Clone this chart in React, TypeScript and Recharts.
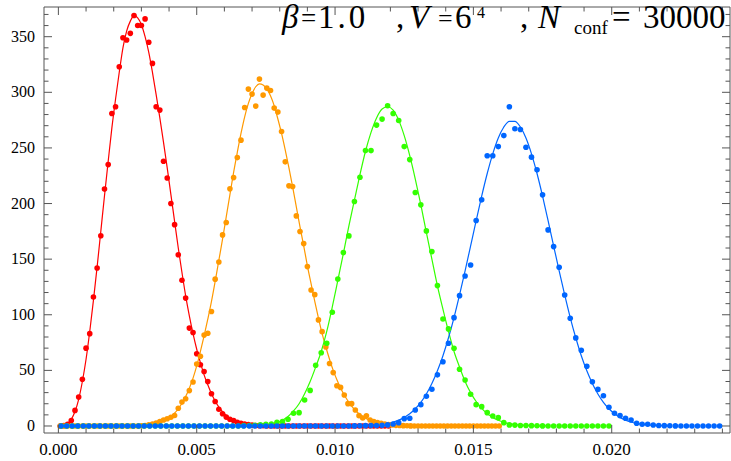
import React from 'react';
import { ComposedChart, XAxis, YAxis, Line, Scatter } from 'recharts';

// bin widths of the four histograms, bin centres sit at (i + 0.5) * width
const RED_BIN = 0.012 / 90;
const ORANGE_BIN = 0.016 / 120;
const GREEN_BIN = 0.02 / 100;
const BLUE_BIN = 0.024 / 120;

// histogram heights, one per bin
const RED_COUNTS = [
  0, 0.3, 1.5, 5, 14, 26, 42, 70, 83, 116,
  142, 171, 213, 235, 281, 287, 323, 349, 347, 353,
  369, 360, 360, 366, 345, 326, 287, 284, 238, 223,
  200, 181, 154, 131, 115, 88, 84, 65, 55, 49,
  40, 29, 22, 15, 11, 8, 6, 5, 3.3, 2.5,
  1.8, 1.2, 0.8, 0.5, 0.3, 0.2, 0, 0, 0, 0,
  0, 0, 0, 0, 0, 0, 0, 0, 0, 0,
  0, 0, 0, 0, 0, 0, 0, 0, 0, 0,
  0, 0, 0, 0, 0, 0, 0, 0, 0, 0,
];
const ORANGE_COUNTS = [
  0, 0, 0, 0, 0, 0, 0, 0, 0, 0,
  0, 0, 0, 0, 0, 0, 0, 0, 0, 0,
  0, 0, 0.2, 0.5, 1, 1.8, 2.7, 4, 5.4, 6.5,
  7.8, 9.5, 16, 21.5, 24.5, 31.8, 39.6, 55.8, 62.7, 81.7,
  83.4, 103, 132, 147.5, 171.8, 182.9, 213.2, 223.3, 241.3, 257,
  286.3, 302.9, 298.4, 287.6, 311.9, 297.5, 303.8, 301.6, 285.8, 282.2,
  264.7, 237.5, 215.9, 215.3, 188.9, 174.8, 164, 143.3, 122.3, 118.1,
  95.4, 84.8, 71, 56.2, 48, 36.2, 34.7, 27.9, 20.1, 20.1,
  14.4, 9.3, 7.2, 9.2, 5.4, 4, 3, 2.5, 1.8, 1.2,
  0.9, 0.6, 0.4, 0.3, 0.2, 0.1, 0, 0, 0, 0,
  0, 0, 0, 0, 0, 0, 0, 0, 0, 0,
  0, 0, 0, 0, 0, 0, 0, 0, 0, 0,
];
const GREEN_COUNTS = [
  0, 0, 0, 0, 0, 0, 0, 0, 0, 0,
  0, 0, 0, 0, 0, 0, 0, 0, 0, 0,
  0, 0, 0, 0, 0, 0, 0, 0, 0, 0,
  0, 0, 0, 0.3, 0.5, 0.6, 1, 1.5, 1.8, 3.3,
  3.9, 6, 11.4, 12, 23.4, 32, 54.6, 65.9, 74.4, 102.3,
  132.2, 155.9, 170.9, 201.8, 223.7, 247.6, 247.6, 270.5, 275.9, 287.9,
  281, 274.6, 251.2, 239.5, 209.9, 198.8, 175.4, 156.8, 126.2, 96.2,
  87.3, 69.9, 51, 41.4, 28.5, 19.2, 17.4, 12, 9, 7.5,
  3, 1, 0.8, 0.5, 0.4, 0.3, 0.2, 0.1, 0, 0,
  0, 0, 0, 0, 0, 0, 0, 0, 0, 0,
];
const BLUE_COUNTS = [
  0, 0, 0, 0, 0, 0, 0, 0, 0, 0,
  0, 0, 0, 0, 0, 0, 0, 0, 0, 0,
  0, 0, 0, 0, 0, 0, 0, 0, 0, 0,
  0, 0, 0, 0, 0, 0, 0, 0, 0, 0,
  0, 0, 0, 0, 0, 0, 0, 0, 0, 0,
  0, 0, 0, 0.1, 0.2, 0.3, 0.4, 0.5, 0.6, 1,
  1.8, 3, 6.6, 6.9, 14.4, 19.2, 26.8, 33.1, 46, 57.7,
  74.4, 97.4, 117.2, 134.9, 144.8, 184.7, 203.3, 242.9, 242.9, 251.2,
  261.1, 287, 267.2, 266.5, 250.6, 241.7, 230.3, 207.8, 176.3, 161.3,
  142.7, 117.8, 96.9, 79.2, 68.1, 53.7, 39.8, 32.9, 27.2, 16.8,
  11.4, 9.3, 6.9, 5.4, 2.4, 1.5, 1.5, 0.9, 0.5, 0.3,
  0.2, 0.1, 0, 0, 0, 0, 0, 0, 0, 0,
];

// fitted curves, one value per bin starting at bin *_FIT_START
const RED_FIT_START = 0;
const RED_FIT = [
  0.2, 0.8, 2.5, 6, 13, 24, 40, 60, 85, 113,
  143, 175, 207, 238, 268, 294, 318, 340, 355, 364,
  369, 367, 361, 350, 336, 318, 298, 277, 255, 232,
  208, 184, 160, 138, 117, 99, 83, 69, 57, 46,
  37, 29, 22.5, 17, 12.8, 9.5, 7, 5, 3.5, 2.4,
  1.6, 1.1, 0.7, 0.45, 0.3, 0.2, 0.1, 0,
];
const ORANGE_FIT_START = 18;
const ORANGE_FIT = [
  0.1, 0.1, 0.2, 0.3, 0.45, 0.7, 1.1, 1.6, 2.3, 3.3,
  4.6, 6.3, 8.5, 11.5, 15.5, 20.5, 26.5, 34, 43, 54,
  67, 81, 96, 112, 130, 149, 168, 188, 208, 228,
  246, 263, 278, 290, 299, 305, 307.5, 306.5, 303, 297,
  288, 276, 263, 248, 232, 215, 197, 179, 162, 144,
  128, 112, 97, 83, 71, 60, 50, 41.6, 34.2, 27.9,
  22.5, 17.9, 14.1, 11, 8.6, 6.6, 5.1, 3.8, 2.9, 2.1,
  1.6, 1.1, 0.8, 0.6, 0.4, 0.3, 0.2, 0.1, 0,
];
const GREEN_FIT_START = 33;
const GREEN_FIT = [
  0.1, 0.15, 0.3, 0.55, 1, 1.8, 3.1, 5.2, 8.5, 13.5,
  20, 29, 40, 53, 67, 85, 107, 131, 155, 180,
  203, 226, 247, 264, 277, 285, 287, 284, 275, 261,
  243, 222, 199, 174, 150, 126, 105, 85, 67, 53,
  40, 30, 22, 15.8, 11.1, 7.6, 5.1, 3.3, 2.1, 1.3,
  0.8, 0.5, 0.3, 0.15, 0.1, 0,
];
const BLUE_FIT_START = 53;
const BLUE_FIT = [
  0.1, 0.2, 0.4, 0.6, 1, 1.5, 2.4, 3.6, 5.3, 7.7,
  11, 15.5, 21.3, 28.8, 38.2, 49.6, 63.2, 79.3, 97.5, 117.8,
  139.5, 162, 184.6, 206.7, 227, 244.7, 258.9, 268.8, 273.9, 273.9,
  268.8, 258.9, 244.7, 227, 206.7, 184.6, 162, 139.5, 117.8, 97.5,
  79.3, 63.2, 49.6, 38.2, 28.8, 21.3, 15.5, 11, 7.7, 5.3,
  3.6, 2.4, 1.5, 1, 0.6, 0.4, 0.2, 0.1,
];

// axes
const X_DOMAIN = [-0.00052, 0.024275];
const Y_DOMAIN = [-6.3, 376.7];
const X_MAJOR = [0, 0.005, 0.01, 0.015, 0.02];
const X_TICKS = [
  0, 0.001, 0.002, 0.003, 0.004, 0.005, 0.006, 0.007, 0.008, 0.009, 0.01, 0.011, 0.012,
  0.013, 0.014, 0.015, 0.016, 0.017, 0.018, 0.019, 0.02, 0.021, 0.022, 0.023, 0.024,
];
const Y_MAJOR = [0, 50, 100, 150, 200, 250, 300, 350];
const Y_TICKS = [
  0, 10, 20, 30, 40, 50, 60, 70, 80, 90, 100, 110, 120, 130, 140, 150, 160, 170, 180, 190,
  200, 210, 220, 230, 240, 250, 260, 270, 280, 290, 300, 310, 320, 330, 340, 350, 360, 370,
];

const RED = '#FF0000';
const ORANGE = '#FF9900';
const GREEN = '#33FF00';
const BLUE = '#0066FF';
const FRAME = '#555555';
const SERIF = 'Liberation Serif, Times New Roman, serif';
const MAJOR_LEN = 8;
const MINOR_LEN = 4.5;

const toPoints = (counts: number[], bin: number, start = 0) =>
  counts.map((y, i) => ({ x: (start + i + 0.5) * bin, y }));

const redPts = toPoints(RED_COUNTS, RED_BIN);
const orangePts = toPoints(ORANGE_COUNTS, ORANGE_BIN);
const greenPts = toPoints(GREEN_COUNTS, GREEN_BIN);
const bluePts = toPoints(BLUE_COUNTS, BLUE_BIN);
const redFit = toPoints(RED_FIT, RED_BIN, RED_FIT_START);
const orangeFit = toPoints(ORANGE_FIT, ORANGE_BIN, ORANGE_FIT_START);
const greenFit = toPoints(GREEN_FIT, GREEN_BIN, GREEN_FIT_START);
const blueFit = toPoints(BLUE_FIT, BLUE_BIN, BLUE_FIT_START);

const isMajor = (v: number, majors: number[]) => majors.some((m) => Math.abs(m - v) < 1e-9);

const BottomTick = (props: any) => {
  const { x, y, payload } = props;
  const major = isMajor(payload.value, X_MAJOR);
  return (
    <g>
      <line x1={x} y1={y} x2={x} y2={y - (major ? MAJOR_LEN : MINOR_LEN)} stroke={FRAME} />
      {major && (
        <text x={x} y={y + 22} textAnchor="middle" fill="#000" style={{ fontFamily: SERIF, fontSize: 17 }}>
          {payload.value.toFixed(3)}
        </text>
      )}
    </g>
  );
};

const TopTick = (props: any) => {
  const { x, y, payload } = props;
  const major = isMajor(payload.value, X_MAJOR);
  return <line x1={x} y1={y} x2={x} y2={y + (major ? MAJOR_LEN : MINOR_LEN)} stroke={FRAME} />;
};

const LeftTick = (props: any) => {
  const { x, y, payload } = props;
  const major = isMajor(payload.value, Y_MAJOR);
  return (
    <g>
      <line x1={x} y1={y} x2={x + (major ? MAJOR_LEN : MINOR_LEN)} y2={y} stroke={FRAME} />
      {major && (
        <text x={x - 9} y={y + 5} textAnchor="end" fill="#000" style={{ fontFamily: SERIF, fontSize: 16 }}>
          {payload.value}
        </text>
      )}
    </g>
  );
};

const RightTick = (props: any) => {
  const { x, y, payload } = props;
  const major = isMajor(payload.value, Y_MAJOR);
  return <line x1={x} y1={y} x2={x - (major ? MAJOR_LEN : MINOR_LEN)} y2={y} stroke={FRAME} />;
};

const dot = (color: string) => (props: any) =>
  <circle cx={props.cx} cy={props.cy} r={2.8} fill={color} />;

// β = 1.0 , V = 6^4 , N_conf = 30000 in the top right corner
const Title = () => (
  <svg width={731} height={60} style={{ position: 'absolute', left: 0, top: 0, pointerEvents: 'none' }}>
    <text fill="#000" style={{ fontFamily: SERIF, fontSize: 33 }}>
      <tspan x={282} y={28} fontStyle="italic">β</tspan>
      <tspan x={301} y={27} style={{ fontSize: 27 }}>=</tspan>
      <tspan x={318} y={28} letterSpacing={3}>1.0</tspan>
      <tspan x={396} y={28}>,</tspan>
      <tspan x={409} y={28} fontStyle="italic">V</tspan>
      <tspan x={438} y={27} style={{ fontSize: 26 }}>=</tspan>
      <tspan x={455} y={28}>6</tspan>
      <tspan x={477} y={18} style={{ fontSize: 16 }}>4</tspan>
      <tspan x={520} y={28}>,</tspan>
      <tspan x={538} y={28} fontStyle="italic">N</tspan>
      <tspan x={574} y={34} style={{ fontSize: 19 }}>conf</tspan>
      <tspan x={612} y={28}>=</tspan>
      <tspan x={643} y={28}>30000</tspan>
    </text>
  </svg>
);

const App: React.FC = () => {
  const series = [
    { pts: redPts, fit: redFit, color: RED, name: 'red' },
    { pts: orangePts, fit: orangeFit, color: ORANGE, name: 'orange' },
    { pts: greenPts, fit: greenFit, color: GREEN, name: 'green' },
    { pts: bluePts, fit: blueFit, color: BLUE, name: 'blue' },
  ];
  return (
    <div style={{ position: 'absolute', left: 0, top: 0, width: 731, height: 461, background: '#fff' }}>
      <ComposedChart width={731} height={461} margin={{ top: 0, right: 0, bottom: 0, left: 0 }}>
        <XAxis xAxisId="b" type="number" dataKey="x" domain={X_DOMAIN} ticks={X_TICKS} interval={0}
          height={28} tickSize={0} tickMargin={0} tickLine={false} tick={BottomTick}
          axisLine={{ stroke: FRAME }} allowDataOverflow />
        <XAxis xAxisId="t" orientation="top" type="number" dataKey="x" domain={X_DOMAIN} ticks={X_TICKS}
          interval={0} height={7} tickSize={0} tickMargin={0} tickLine={false} tick={TopTick}
          axisLine={{ stroke: FRAME }} allowDataOverflow />
        <YAxis yAxisId="l" type="number" dataKey="y" domain={Y_DOMAIN} ticks={Y_TICKS} interval={0}
          width={44} tickSize={0} tickMargin={0} tickLine={false} tick={LeftTick}
          axisLine={{ stroke: FRAME }} allowDataOverflow />
        <YAxis yAxisId="r" orientation="right" type="number" dataKey="y" domain={Y_DOMAIN} ticks={Y_TICKS}
          interval={0} width={1} tickSize={0} tickMargin={0} tickLine={false} tick={RightTick}
          axisLine={{ stroke: FRAME }} allowDataOverflow />
        {series.map((s) => (
          <Line key={`fit-${s.name}`} xAxisId="b" yAxisId="l" data={s.fit} dataKey="y" type="monotone"
            stroke={s.color} strokeWidth={1.2} dot={false} activeDot={false} isAnimationActive={false} />
        ))}
        {series.map((s) => (
          <Scatter key={`pts-${s.name}`} xAxisId="b" yAxisId="l" data={s.pts} dataKey="y"
            fill={s.color} shape={dot(s.color)} isAnimationActive={false} />
        ))}
      </ComposedChart>
      <Title />
    </div>
  );
};

export default App;
